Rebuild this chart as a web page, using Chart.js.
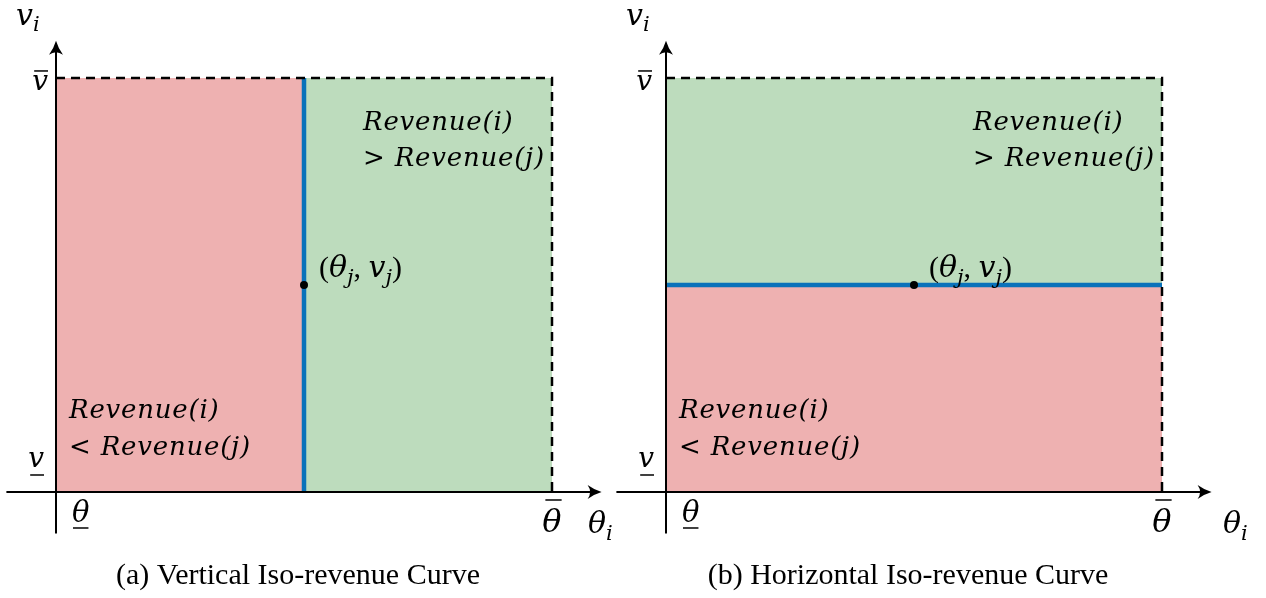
<!DOCTYPE html>
<html>
<head>
<meta charset="utf-8">
<script src="https://cdn.jsdelivr.net/npm/chart.js@4.4.0/dist/chart.umd.min.js"></script>
<style>
  html, body { margin: 0; padding: 0; background: #fff; }
  #wrap { position: relative; width: 1266px; height: 598px; overflow: hidden; }
  canvas { position: absolute; top: 0; }
  #left { left: 0; }
  #right { left: 610px; }
</style>
</head>
<body>
<div id="wrap">
  <canvas id="left" width="640" height="598"></canvas>
  <canvas id="right" width="656" height="598"></canvas>
</div>
<script>
// type space, normalised: theta in [lower, upper], v in [lower, upper]
const thetaBounds = [0, 1];
const vBounds = [0, 1];
// the reference point (theta_j, v_j)
const thetaJ = 0.5;
const vJ = 0.5;
// how far the drawn axes run past the type space
const xExtent = [-0.1, 1.1];
const yExtent = [-0.1, 1.09];
const captions = ['(a) Vertical Iso-revenue Curve', '(b) Horizontal Iso-revenue Curve'];
const lowerText = ['Revenue(i)', '< Revenue(j)'];
const upperText = ['Revenue(i)', '> Revenue(j)'];

const RED = '#eeb1b1';
const GREEN = '#bddcbd';
const BLUE = '#0a72ba';
const SERIF = '"Liberation Serif", "DejaVu Serif", serif';
const MATH = '"DejaVu Serif", "Liberation Serif", serif';

function regionDatasets(kind) {
  const [t0, t1] = thetaBounds;
  const [v0, v1] = vBounds;
  const area = { showLine: true, borderWidth: 0, pointRadius: 0, order: 4 };
  let sets;
  if (kind === 'vertical') {
    sets = [
      { ...area, data: [{ x: t0, y: v1 }, { x: thetaJ, y: v1 }], fill: 'origin', backgroundColor: RED },
      { ...area, data: [{ x: thetaJ, y: v1 }, { x: t1, y: v1 }], fill: 'origin', backgroundColor: GREEN },
      { data: [{ x: thetaJ, y: v0 }, { x: thetaJ, y: v1 }], showLine: true, borderColor: BLUE, borderWidth: 4.5, pointRadius: 0, order: 2 },
    ];
  } else {
    sets = [
      { ...area, data: [{ x: t0, y: vJ }, { x: t1, y: vJ }], fill: 'origin', backgroundColor: RED },
      { ...area, data: [{ x: t0, y: v1 }, { x: t1, y: v1 }], fill: { value: vJ }, backgroundColor: GREEN },
      { data: [{ x: t0, y: vJ }, { x: t1, y: vJ }], showLine: true, borderColor: BLUE, borderWidth: 4.5, pointRadius: 0, order: 2 },
    ];
  }
  sets.push(
    // dashed upper bounds
    { data: [{ x: t0, y: v1 }, { x: t1, y: v1 }, { x: t1, y: v0 }], showLine: true, borderColor: '#000', borderWidth: 2.5, borderDash: [9, 6], pointRadius: 0, order: 1 },
    { data: [{ x: thetaJ, y: vJ }], showLine: false, pointRadius: 4, backgroundColor: '#000', borderWidth: 0, order: 0 }
  );
  return sets;
}

function arrowHead(ctx, x, y, angle) {
  ctx.save();
  ctx.translate(x, y);
  ctx.rotate(angle);
  ctx.beginPath();
  ctx.moveTo(0, 0);
  ctx.quadraticCurveTo(-7, -2, -14, -7);
  ctx.quadraticCurveTo(-9, 0, -14, 7);
  ctx.quadraticCurveTo(-7, 2, 0, 0);
  ctx.fillStyle = '#000';
  ctx.fill();
  ctx.restore();
}

// draws [text, kind] pieces: 'i' italic, 'r' roman, 's' italic subscript
function drawPieces(ctx, pieces, x, y, size, align) {
  const fontFor = k => k === 's' ? `italic ${Math.round(size * 0.7)}px ${MATH}`
    : k === 'r' ? `${size}px ${SERIF}` : `italic ${size}px ${MATH}`;
  const widths = pieces.map(([t, k]) => { ctx.font = fontFor(k); return ctx.measureText(t).width; });
  const total = widths.reduce((a, b) => a + b, 0);
  let cx = align === 'right' ? x - total : align === 'center' ? x - total / 2 : x;
  const start = cx;
  ctx.textAlign = 'left';
  ctx.textBaseline = 'alphabetic';
  pieces.forEach(([t, k], i) => {
    ctx.font = fontFor(k);
    ctx.fillText(t, cx, k === 's' ? y + size * 0.22 : y);
    cx += widths[i];
  });
  return { left: start, right: cx };
}

function hLine(ctx, x0, x1, y) {
  ctx.beginPath();
  ctx.moveTo(x0, y);
  ctx.lineTo(x1, y);
  ctx.lineWidth = 1.5;
  ctx.strokeStyle = '#000';
  ctx.stroke();
}

const annotations = {
  id: 'annotations',
  afterDatasetsDraw(chart, args, opts) {
    const { ctx } = chart;
    const xs = chart.scales.x, ys = chart.scales.y;
    const px0 = xs.getPixelForValue(thetaBounds[0]), px1 = xs.getPixelForValue(thetaBounds[1]);
    const py0 = ys.getPixelForValue(vBounds[0]), py1 = ys.getPixelForValue(vBounds[1]);
    const xl = xs.getPixelForValue(xExtent[0]), xr = xs.getPixelForValue(xExtent[1]);
    const yb = ys.getPixelForValue(yExtent[0]), yt = ys.getPixelForValue(yExtent[1]);

    ctx.save();
    // axes
    ctx.strokeStyle = '#000';
    ctx.lineWidth = 2;
    ctx.beginPath();
    ctx.moveTo(xl, py0); ctx.lineTo(xr - 5, py0);
    ctx.moveTo(px0, yb); ctx.lineTo(px0, yt + 5);
    ctx.stroke();
    arrowHead(ctx, xr, py0, 0);
    arrowHead(ctx, px0, yt, -Math.PI / 2);

    ctx.fillStyle = '#000';
    // axis names
    drawPieces(ctx, [['v', 'i'], ['i', 's']], px0 - 40, yt - 16, 30, 'left');
    drawPieces(ctx, [['θ', 'i'], ['i', 's']], px1 + opts.thetaNameDx, py0 + 41, 30, 'left');

    // bounds on the axes
    let b = drawPieces(ctx, [['v', 'i']], px0 - opts.vbarGap, py1 + 12, 28, 'right');
    hLine(ctx, b.left + 2, b.right, py1 - 7);
    b = drawPieces(ctx, [['v', 'i']], px0 - 12, py0 - 25, 28, 'right');
    hLine(ctx, b.left + 2, b.right, py0 - 17);
    b = drawPieces(ctx, [['θ', 'i']], px0 + 16, py0 + 30, 29, 'left');
    hLine(ctx, b.left + 1, b.right - 1, py0 + 36);
    b = drawPieces(ctx, [['θ', 'i']], px1, py0 + 40, 32, 'center');
    hLine(ctx, b.left + 3, b.right, py0 + 8);

    // reference point label
    const jx = xs.getPixelForValue(thetaJ), jy = ys.getPixelForValue(vJ);
    drawPieces(ctx, [['(', 'r'], ['θ', 'i'], ['j', 's'], [', ', 'r'], ['v', 'i'], ['j', 's'], [')', 'r']],
      jx + 15, jy - 8, 30, 'left');

    // region texts
    ctx.letterSpacing = '0.8px';
    ctx.font = `italic 26px ${MATH}`;
    ctx.textAlign = 'left';
    lowerText.forEach((t, i) => ctx.fillText(t, px0 + 13, py0 - 74 + i * 37));
    upperText.forEach((t, i) => ctx.fillText(t, px1 - 189, py1 + 52 + i * 36));
    ctx.letterSpacing = '0px';

    // caption
    ctx.font = `30px ${SERIF}`;
    ctx.textAlign = 'center';
    ctx.fillText(opts.caption, px0 + 242, py0 + 92);
    ctx.restore();
  }
};

function makeChart(id, kind, caption, vbarGap, thetaNameDx, padRight) {
  return new Chart(document.getElementById(id), {
    type: 'scatter',
    data: { datasets: regionDatasets(kind) },
    options: {
      responsive: false,
      animation: false,
      devicePixelRatio: 1,
      layout: { padding: { left: 6.4, right: padRight, top: 40.7, bottom: 64.6 } },
      scales: {
        x: { type: 'linear', min: xExtent[0], max: xExtent[1], display: false },
        y: { type: 'linear', min: yExtent[0], max: yExtent[1], display: false },
      },
      plugins: {
        legend: { display: false },
        tooltip: { enabled: false },
        annotations: { caption, vbarGap, thetaNameDx },
      },
    },
    plugins: [annotations],
  });
}

makeChart('left', 'vertical', captions[0], 8, 36, 38.4);
makeChart('right', 'horizontal', captions[1], 14, 61, 54.4);
</script>
</body>
</html>
